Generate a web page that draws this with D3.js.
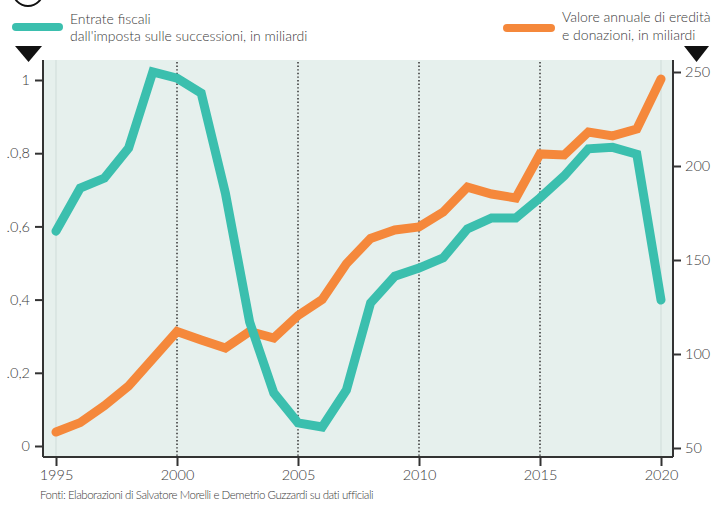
<!DOCTYPE html>
<html>
<head>
<meta charset="utf-8">
<script src="https://cdn.jsdelivr.net/npm/d3@7"></script>
<style>
  html, body { margin: 0; padding: 0; background: #fff; }
  svg { display: block; }
  text { font-family: Lato, "Open Sans", sans-serif; font-weight: 300; fill: #3a3a3a; }
</style>
</head>
<body>
<svg id="chart" width="715" height="506"></svg>
<script>
// ---- data ----
const years = [1995,1996,1997,1998,1999,2000,2001,2002,2003,2004,2005,2006,2007,2008,2009,2010,2011,2012,2013,2014,2015,2016,2017,2018,2019,2020];
const entrateFiscali = [0.587,0.705,0.732,0.814,1.022,1.005,0.964,0.691,0.339,0.145,0.063,0.052,0.153,0.391,0.464,0.486,0.514,0.593,0.623,0.623,0.678,0.738,0.812,0.816,0.797,0.399];
const valoreEredita = [58.5,63.5,72.5,83,97.5,112,107.5,103.2,112,108.5,120.5,129,148,161.5,166,167.6,175.5,188.8,185.1,183,206.4,205.9,218.1,216,219.7,246.3];
const leftTicks = [0,0.2,0.4,0.6,0.8,1];
const leftTickLabels = ["0",".0,2","0,4",".0,6",".0,8","1"];
const rightTicks = [50,100,150,200,250];
const xTicks = [1995,2000,2005,2010,2015,2020];
const gridYears = [2000,2005,2010,2015];
const legendTeal = ["Entrate fiscali","dall'imposta sulle successioni, in miliardi"];
const legendOrange = ["Valore annuale di eredità","e donazioni, in miliardi"];
const sourceText = "Fonti: Elaborazioni di Salvatore Morelli e Demetrio Guzzardi su dati ufficiali";

const TEAL = "#3bbfae", ORANGE = "#f5883b";

const svg = d3.select("#chart");
const plotL = 43, plotR = 673, plotT = 60, plotB = 457;

const x = d3.scaleLinear().domain([1995,2020]).range([56,661]);
const yL = d3.scaleLinear().domain([0,1]).range([446,80]);
const yR = d3.scaleLinear().domain([50,250]).range([448,72]);

// background
svg.append("rect").attr("x",plotL).attr("y",plotT).attr("width",plotR-plotL).attr("height",plotB-plotT).attr("fill","#e6f0ed");

// faint edge lines
svg.selectAll(".faint").data([1995,2020]).join("line")
  .attr("x1",d=>x(d)).attr("x2",d=>x(d)).attr("y1",plotT).attr("y2",plotB)
  .attr("stroke","#d3dfdc").attr("stroke-width",1.2);

// dotted grid
svg.selectAll(".grid").data(gridYears).join("line")
  .attr("x1",d=>x(d)).attr("x2",d=>x(d)).attr("y1",plotT+2).attr("y2",plotB)
  .attr("stroke","#3d3d3d").attr("stroke-width",1.6).attr("stroke-dasharray","1.4,2.2");

// lines
const lineT = d3.line().x((d,i)=>x(years[i])).y(d=>yL(d));
const lineO = d3.line().x((d,i)=>x(years[i])).y(d=>yR(d));
svg.append("path").datum(valoreEredita).attr("d",lineO).attr("fill","none")
  .attr("stroke",ORANGE).attr("stroke-width",9).attr("stroke-linejoin","miter").attr("stroke-linecap","round");
svg.append("path").datum(entrateFiscali).attr("d",lineT).attr("fill","none")
  .attr("stroke",TEAL).attr("stroke-width",9).attr("stroke-linejoin","miter").attr("stroke-linecap","round");

// axes
const axisColor = "#333";
const leftAxis = svg.append("g").attr("transform",`translate(${plotL},0)`)
  .call(d3.axisLeft(yL).tickValues(leftTicks).tickSize(8).tickPadding(5)
        .tickFormat((d,i)=>leftTickLabels[i]));
leftAxis.select(".domain").attr("d",`M0,${plotT}V${plotB}`);
const rightAxis = svg.append("g").attr("transform",`translate(${plotR},0)`)
  .call(d3.axisRight(yR).tickValues(rightTicks).tickSize(8).tickPadding(4));
rightAxis.select(".domain").attr("d",`M0,${plotT}V${plotB}`);
const bottomAxis = svg.append("g").attr("transform",`translate(0,${plotB})`)
  .call(d3.axisBottom(x).tickValues(xTicks).tickSize(9).tickPadding(4).tickFormat(d3.format("d")));
bottomAxis.select(".domain").attr("d",`M${plotL},0H${plotR}`);
[leftAxis,rightAxis,bottomAxis].forEach(g=>{
  g.selectAll(".domain").attr("stroke",axisColor).attr("stroke-width",2);
  g.selectAll(".tick line").attr("stroke",axisColor).attr("stroke-width",2);
  g.selectAll(".tick text").attr("font-family","Lato, sans-serif").attr("font-weight",300)
    .attr("font-size",14.5).attr("fill","#3a3a3a");
});

// triangles
svg.append("path").attr("d","M15,46L42,46L28.5,62Z").attr("fill","#111");
svg.append("path").attr("d","M684,46L709,46L696.5,62Z").attr("fill","#111");

// partial circle top-left
svg.append("circle").attr("cx",28).attr("cy",-9).attr("r",15).attr("fill","none").attr("stroke","#111").attr("stroke-width",2);

// legends
svg.append("line").attr("x1",16).attr("x2",59).attr("y1",27).attr("y2",27)
  .attr("stroke",TEAL).attr("stroke-width",8).attr("stroke-linecap","round");
svg.append("text").attr("x",70).attr("y",24).attr("font-size",14).text(legendTeal[0]);
svg.append("text").attr("x",70).attr("y",41).attr("font-size",14).text(legendTeal[1]);

svg.append("line").attr("x1",507).attr("x2",551).attr("y1",28).attr("y2",28)
  .attr("stroke",ORANGE).attr("stroke-width",8).attr("stroke-linecap","round");
svg.append("text").attr("x",562).attr("y",22).attr("font-size",14).text(legendOrange[0]);
svg.append("text").attr("x",562).attr("y",40).attr("font-size",14).text(legendOrange[1]);

// source
svg.append("text").attr("x",40).attr("y",499).attr("font-size",11.5)
  .attr("font-family","Roboto, sans-serif").attr("font-weight",300).attr("letter-spacing","-0.45").attr("fill","#333").text(sourceText);
</script>
</body>
</html>
